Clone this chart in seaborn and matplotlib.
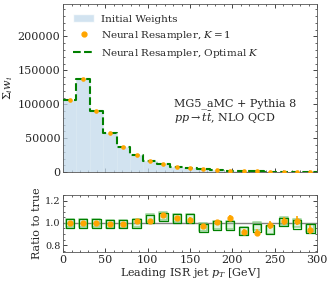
import numpy as np
import pandas as pd
import matplotlib
matplotlib.use("Agg")
import matplotlib.pyplot as plt
import seaborn as sns
from matplotlib.ticker import AutoMinorLocator
from matplotlib.patches import Patch
from matplotlib.lines import Line2D

# binning: 19 bins over 0-300 GeV
n_bins = 19
pt_range = (0, 300)
bin_edges = np.linspace(pt_range[0], pt_range[1], n_bins + 1)
bin_centers = 0.5 * (bin_edges[:-1] + bin_edges[1:])

initial_weights = [106500, 137500, 89500, 57500, 37300, 25000, 16200, 11300, 7900, 5400,
                   3900, 2900, 2000, 1500, 1100, 800, 600, 450, 350]
ratio_k1 = [0.997, 1.0, 0.997, 0.99, 0.99, 1.015, 1.02, 1.075, 1.045, 1.03,
            0.97, 1.005, 1.045, 0.92, 0.91, 0.98, 1.02, 1.02, 0.94]
ratio_k1_err = [0.006, 0.006, 0.007, 0.008, 0.009, 0.011, 0.013, 0.015, 0.017, 0.019,
                0.021, 0.024, 0.026, 0.028, 0.031, 0.034, 0.036, 0.04, 0.043]
ratio_opt = [0.995, 0.995, 0.995, 0.99, 0.99, 0.995, 1.035, 1.055, 1.04, 1.04,
             0.955, 0.975, 0.975, 0.925, 0.955, 0.94, 1.01, 0.985, 0.95]
ratio_opt_light = [0.995, 0.998, 0.995, 0.99, 0.992, 1.0, 1.04, 1.06, 1.045, 1.045,
                   0.96, 0.98, 0.98, 0.93, 0.97, 0.94, 1.02, 0.995, 0.955]

sns.set_style("ticks")
plt.rcParams['font.family'] = ['DejaVu Serif']
plt.rcParams['mathtext.fontset'] = 'dejavuserif'
plt.rcParams['font.size'] = 8
plt.rcParams['xtick.direction'] = 'in'
plt.rcParams['ytick.direction'] = 'in'
plt.rcParams['xtick.top'] = True
plt.rcParams['ytick.right'] = True

df = pd.DataFrame({'pt': bin_centers, 'w': initial_weights,
                   'r_k1': ratio_k1, 'r_err': ratio_k1_err,
                   'r_opt': ratio_opt, 'r_opt_light': ratio_opt_light})

fig = plt.figure(figsize=(3.32, 2.83), dpi=100)
ax = fig.add_axes([0.19, 0.392, 0.765, 0.594])
rax = fig.add_axes([0.19, 0.11, 0.765, 0.201])

# top panel: weighted histograms
sns.histplot(data=df, x='pt', weights='w', bins=n_bins, binrange=pt_range, ax=ax,
             color='#c3daec', alpha=0.75, edgecolor='#dce9f3', linewidth=0.4)
sns.histplot(data=df, x='pt', weights='w', bins=n_bins, binrange=pt_range, ax=ax,
             element='step', fill=False, color='green', linestyle='--',
             linewidth=1.5, zorder=3)
ax.scatter(df['pt'], df['w'], color='orange', s=11, zorder=4, linewidths=0)

handles = [Patch(facecolor='#c3daec', alpha=0.75),
           Line2D([], [], marker='o', color='orange', linestyle='none', markersize=3.5),
           Line2D([], [], color='green', linestyle='--', linewidth=1.5)]
labels = ['Initial Weights', r'Neural Resampler, $K=1$', r'Neural Resampler, Optimal $K$']
ax.legend(handles, labels, loc='upper left', frameon=False, fontsize=7.5,
          handlelength=2.0, handletextpad=0.6, borderaxespad=0.6)

ax.set_xlim(0, 300)
ax.set_ylim(0, 248000)
ax.set_yticks([0, 50000, 100000, 150000, 200000])
ax.set_xticklabels([])
ax.set_xlabel('')
ax.set_ylabel(r'$\Sigma_i w_i$', labelpad=2)
ax.xaxis.set_minor_locator(AutoMinorLocator(5))
ax.yaxis.set_minor_locator(AutoMinorLocator(5))
ax.tick_params(which='major', length=3, width=0.6, pad=2)
ax.tick_params(which='minor', length=1.5, width=0.5)
ax.text(0.435, 0.41, 'MG5_aMC + Pythia 8', transform=ax.transAxes, fontsize=8, va='center')
ax.text(0.435, 0.32, r'$pp\rightarrow t\bar{t}$, NLO QCD', transform=ax.transAxes,
        fontsize=8, va='center')
for s in ax.spines.values():
    s.set_color('#555555')
    s.set_linewidth(0.6)

# bottom panel: ratios
rax.axhline(1.0, color='gray', linewidth=1.0, zorder=1)
sns.scatterplot(data=df, x='pt', y='r_opt_light', ax=rax, marker='s', s=40,
                facecolor=(0.6, 0.85, 0.6, 0.3), edgecolor=(0.4, 0.75, 0.4, 0.6),
                linewidth=1.2, zorder=2)
sns.scatterplot(data=df, x='pt', y='r_opt', ax=rax, marker='s', s=36,
                facecolor='none', edgecolor='green', linewidth=0.9, zorder=3)
rax.errorbar(df['pt'], df['r_k1'], yerr=df['r_err'], fmt='o', color='orange',
             markersize=3.5, elinewidth=1.2, capsize=0, zorder=4)
rax.set_xlim(0, 300)
rax.set_ylim(0.74, 1.25)
rax.set_yticks([0.8, 1.0, 1.2])
rax.set_xticks([0, 50, 100, 150, 200, 250, 300])
rax.xaxis.set_minor_locator(AutoMinorLocator(5))
rax.yaxis.set_minor_locator(AutoMinorLocator(4))
rax.tick_params(which='major', length=3, width=0.6, labelsize=7, pad=2)
rax.tick_params(which='minor', length=1.5, width=0.5)
rax.tick_params(axis='x', labelsize=8)
rax.set_ylabel('Ratio to true', labelpad=2)
rax.set_xlabel(r'Leading ISR jet $p_T$ [GeV]', labelpad=1)
for s in rax.spines.values():
    s.set_color('#555555')
    s.set_linewidth(0.6)

fig.savefig('out.png', dpi=100)
